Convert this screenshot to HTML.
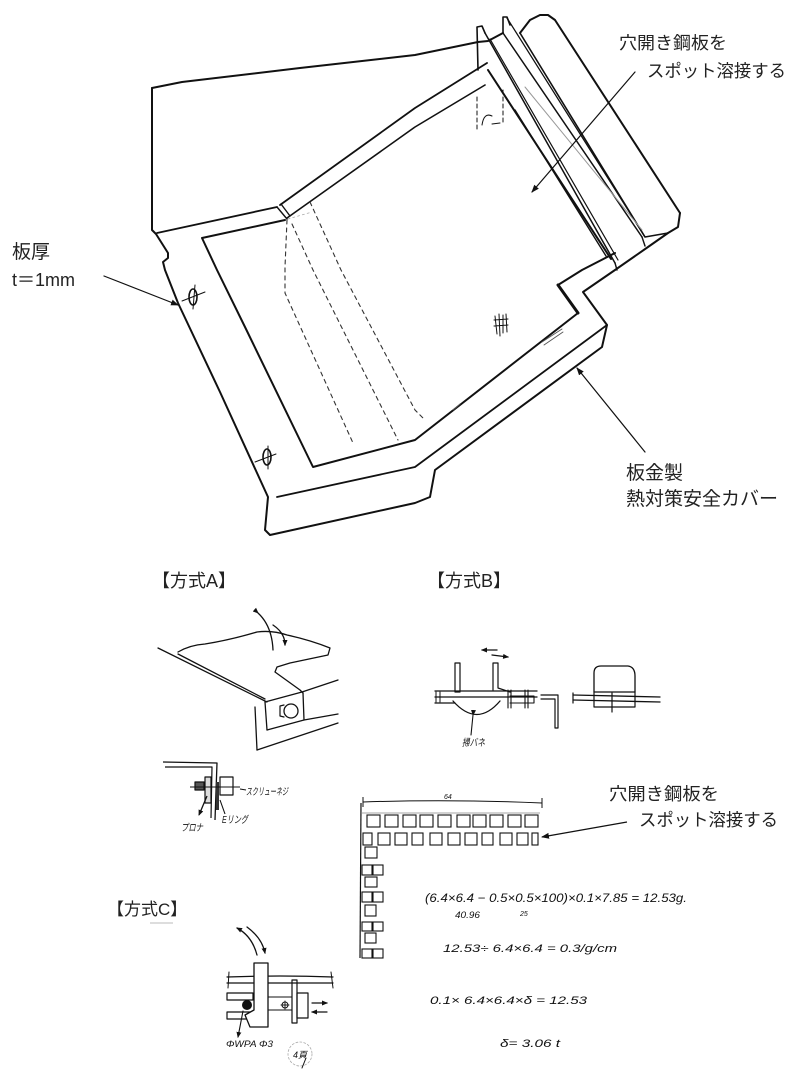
<!DOCTYPE html>
<html><head><meta charset="utf-8">
<style>
html,body{margin:0;padding:0;background:#fff;}
svg{display:block;}
.lab{font-family:"Liberation Sans","Noto Sans CJK JP",sans-serif;fill:#222;}
.hw{font-family:"Liberation Sans","Noto Sans CJK JP",sans-serif;font-style:italic;fill:#111;}
</style></head>
<body>
<svg width="800" height="1072" viewBox="0 0 800 1072" xmlns="http://www.w3.org/2000/svg">
<defs>
<marker id="ah" markerWidth="8" markerHeight="8" refX="7" refY="4" orient="auto" markerUnits="userSpaceOnUse">
<path d="M0,1 L8,4 L0,7 Z" fill="#111"/>
</marker>
<marker id="ah2" markerWidth="6" markerHeight="6" refX="5" refY="3" orient="auto" markerUnits="userSpaceOnUse">
<path d="M0,0.5 L6,3 L0,5.5 Z" fill="#111"/>
</marker>
</defs>
<rect width="800" height="1072" fill="#fff"/>

<!-- ===== MAIN DRAWING ===== -->
<g fill="none" stroke="#111" stroke-linejoin="round" stroke-linecap="round">
<!-- top edge -->
<path d="M152,88 L182,82 L300,68 L415,55 L478,42 L488,41 L503,33" stroke-width="2"/>
<!-- outer outline left/bottom/right -->
<path d="M152,88 L152,230 L156,234 L168,253 L168,258 L163,262 L165,270 L178,303 L220,392 L268,497 L265,530 L270,535 L415,503 L430,497 L435,470 L602,347 L607,325 L583,292 L615,270 L648,247 L668,233 L678,227 L680,213" stroke-width="2"/>
<!-- box -->
<path d="M520,33 L530,20 L540,15 L548,15 L555,20 L680,213" stroke-width="2"/>
<path d="M520,33 L645,237 L668,233" stroke-width="1.6"/>
<!-- left panel bottom and fold -->
<path d="M157,233 L277,207" stroke-width="1.8"/>
<path d="M277,207 L287,219 M281,204 L290,216" stroke-width="1.4"/>
<!-- frame upper lines -->
<path d="M280,205 L415,108 L487,63" stroke-width="1.8"/>
<path d="M287,218 L415,127 L485,85" stroke-width="1.6"/>
<!-- inner window -->
<path d="M285,220 L202,238 L217,270 L245,327 L313,467 L415,440 L578,313 L558,285 L582,270 L615,253" stroke-width="2"/>
<path d="M558,285 L578,313" stroke-width="3"/>
<!-- window right edge heavy -->
<path d="M488,70 L611,259" stroke-width="2"/>
<!-- flange top edge -->
<path d="M277,497 L415,467 L607,325" stroke-width="1.8"/>
<!-- bars -->
<path d="M485,33 L615,263" stroke-width="1.5"/>
<path d="M490,39 L618,260" stroke-width="1.2"/>
<path d="M503,33 L642,237" stroke-width="1.5"/>
<path d="M507,18 L645,237" stroke-width="1.3"/>
<path d="M515,110 L606,256" stroke-width="1.4"/>
<path d="M525,87 L642,230" stroke-width="1" stroke="#999"/>
<!-- tabs -->
<path d="M478,70 L477,27 L482,26 L485,33" stroke-width="1.6"/>
<path d="M503,33 L503,17 L507,17 L510,25" stroke-width="1.6"/>
<path d="M615,263 L617,270 M642,237 L645,246" stroke-width="1.4"/>
<!-- dashed near top -->
<path d="M477,97 L477,132 M503,90 L503,123" stroke-width="1" stroke-dasharray="4 3"/>
<path d="M482,125 Q484,112 492,116 M492,124 L500,123" stroke-width="1"/>
<!-- dashed lines -->
<g stroke-width="1.1" stroke-dasharray="4 4" stroke="#333">
<path d="M287,220 L285,267 L285,293 L353,443"/>
<path d="M292,224 L313,270 L398,440"/>
<path d="M310,202 L341,270 L415,410 L425,420"/>
</g>
<path d="M288,219 L312,212" stroke-width="0.8" stroke="#aaa" stroke-dasharray="2 3"/>
<!-- holes -->
<ellipse cx="193" cy="297" rx="4" ry="8" stroke-width="1.6"/>
<path d="M182,301 L205,292 M195,285 L193,309" stroke-width="1"/>
<ellipse cx="267" cy="457" rx="4" ry="8" stroke-width="1.6"/>
<path d="M255,462 L276,454 M268,446 L268,469" stroke-width="1"/>
<!-- hatch -->
<path d="M495,316 L497,334 M499,314 L500,336 M503,315 L503,333 M506,314 L507,332 M494,320 L508,319 M494,326 L508,325" stroke-width="1"/>
<!-- small marks -->
<path d="M542,342 L562,329 M544,345 L563,332" stroke-width="0.9" stroke="#555"/>
<path d="M453,410 L460,404" stroke-width="0.9" stroke="#555"/>
<!-- arrows -->
<path d="M104,276 L178,305" stroke-width="1.2" marker-end="url(#ah)"/>
<path d="M635,72 L532,192" stroke-width="1.2" marker-end="url(#ah)"/>
<path d="M645,452 L577,368" stroke-width="1.2" marker-end="url(#ah)"/>
</g>

<!-- labels main -->
<text class="lab" x="619" y="49" font-size="17.5" textLength="108" lengthAdjust="spacingAndGlyphs">穴開き鋼板を</text>
<text class="lab" x="647" y="77" font-size="17.5" textLength="139" lengthAdjust="spacingAndGlyphs">スポット溶接する</text>
<text class="lab" x="12" y="258" font-size="19">板厚</text>
<text class="lab" x="12" y="286" font-size="18">t＝1mm</text>
<text class="lab" x="626" y="479" font-size="19" textLength="57" lengthAdjust="spacingAndGlyphs">板金製</text>
<text class="lab" x="626" y="505" font-size="19" textLength="152" lengthAdjust="spacingAndGlyphs">熱対策安全カバー</text>

<!-- ===== METHOD A ===== -->
<text class="lab" x="152" y="587" font-size="18">【方式A】</text>
<g fill="none" stroke="#111" stroke-linejoin="round" stroke-linecap="round">
<!-- curved arrow -->
<path d="M258,613 Q272,626 273,650" stroke-width="1.3" marker-start="url(#ah2)"/>
<path d="M273,625 Q285,633 285,645" stroke-width="1.3" marker-end="url(#ah2)"/>
<!-- wall lines -->
<path d="M158,648 L267,702" stroke-width="1.3"/>
<path d="M178,654 L265,699" stroke-width="1.3"/>
<!-- plate outline -->
<path d="M178,652 Q190,645 205,644 Q230,640 257,632 Q272,630 287,635 Q310,640 330,648 L328,655 L290,663 L277,667 L275,672 L300,690 L303,693" stroke-width="1.3"/>
<!-- angle vertical -->
<path d="M255,707 L257,750" stroke-width="1.3"/>
<path d="M265,702 L267,730" stroke-width="1.3"/>
<!-- block -->
<path d="M265,702 L302,692 L338,680" stroke-width="1.3"/>
<path d="M303,693 L304,720" stroke-width="1.3"/>
<path d="M267,730 L304,720 L338,714" stroke-width="1.3"/>
<path d="M257,750 L338,723" stroke-width="1.3"/>
<!-- knob -->
<circle cx="291" cy="711" r="7" stroke-width="1.3"/>
<path d="M284,705 L280,706 L280,716 L284,717" stroke-width="1.2"/>
</g>
<!-- method A detail -->
<g fill="none" stroke="#111" stroke-linejoin="round">
<path d="M163,762 L217,763 L215,820" stroke-width="1.3"/>
<path d="M165,767 L212,767 L211,818" stroke-width="1.2"/>
<rect x="220" y="777" width="13" height="18" stroke-width="1.2"/>
<rect x="205" y="777" width="6" height="26" stroke-width="1.2" fill="#ddd"/>
<rect x="195" y="782" width="9" height="8" stroke-width="1.2" fill="#555"/>
<rect x="216" y="782" width="3" height="28" fill="#333" stroke="none"/>
<path d="M190,787 L240,787" stroke-width="1.1"/>
<path d="M240,789 L246,790" stroke-width="1.1"/>
<path d="M207,796 L199,815" stroke-width="1.3" marker-end="url(#ah2)"/>
<path d="M220,800 L225,814" stroke-width="1.1"/>
</g>
<text class="hw" x="246" y="795" font-size="10" textLength="42" lengthAdjust="spacingAndGlyphs">スクリューネジ</text>
<text class="hw" x="222" y="823" font-size="10" textLength="26" lengthAdjust="spacingAndGlyphs">Eリング</text>
<text class="hw" x="181" y="831" font-size="10" textLength="22" lengthAdjust="spacingAndGlyphs">プロナ</text>

<!-- ===== METHOD B ===== -->
<text class="lab" x="427" y="587" font-size="18">【方式B】</text>
<g fill="none" stroke="#111" stroke-linejoin="round" stroke-linecap="round">
<path d="M497,650 L482,650" stroke-width="1.3" marker-end="url(#ah2)"/>
<path d="M492,655 L508,657" stroke-width="1.3" marker-end="url(#ah2)"/>
<path d="M435,691 L537,691 M435,697 L537,697 M435,703 L455,703" stroke-width="1.3"/>
<path d="M436,692 L436,702 M440,692 L440,702" stroke-width="1"/>
<rect x="455" y="663" width="5" height="29" stroke-width="1.2"/>
<path d="M493,690 L493,663 L498,663 L498,688 L510,692" stroke-width="1.2"/>
<path d="M453,701 Q477,728 500,701" stroke-width="1.3"/>
<path d="M508,690 L508,708 M511,690 L511,708 M525,690 L525,708 M528,690 L528,708" stroke-width="1.1"/>
<path d="M510,696 L534,696 L534,703 L510,703" stroke-width="1.1"/>
<path d="M541,695 L558,695 L558,728 L555,728 L555,699 L541,699" stroke-width="1.2"/>
<path d="M473,715 L471,735" stroke-width="1.1" marker-start="url(#ah2)"/>
<!-- right assembly -->
<path d="M573,695 L660,697 M573,700 L660,702" stroke-width="1.3"/>
<path d="M573,693 L573,703" stroke-width="1.2"/>
<path d="M594,692 L594,673 Q594,666 601,666 L628,666 Q635,667 635,676 L635,692" stroke-width="1.3"/>
<rect x="594" y="692" width="41" height="15" stroke-width="1.2"/>
<path d="M612,693 L612,712" stroke-width="1.2"/>
</g>
<text class="hw" x="462" y="746" font-size="10" textLength="23" lengthAdjust="spacingAndGlyphs">掃バネ</text>

<!-- ===== PERFORATED PLATE ===== -->
<g fill="none" stroke="#111" stroke-width="1.1">
<path d="M363,802 Q450,799 542,803" stroke-width="1"/>
<path d="M363,797 L363,807 M542,798 L542,808" stroke-width="1"/>
<path d="M362,813 L540,813" stroke="#888" stroke-width="0.8"/>
<path d="M361,803 L360,958" stroke-width="1.2"/>
<!-- row 1 -->
<rect x="367" y="815" width="13" height="12"/>
<rect x="385" y="815" width="13" height="12"/>
<rect x="403" y="815" width="13" height="12"/>
<rect x="420" y="815" width="13" height="12"/>
<rect x="438" y="815" width="13" height="12"/>
<rect x="457" y="815" width="13" height="12"/>
<rect x="473" y="815" width="13" height="12"/>
<rect x="490" y="815" width="13" height="12"/>
<rect x="508" y="815" width="13" height="12"/>
<rect x="525" y="815" width="13" height="12"/>
<!-- row 2 -->
<rect x="363" y="833" width="9" height="12"/>
<rect x="378" y="833" width="12" height="12"/>
<rect x="395" y="833" width="12" height="12"/>
<rect x="412" y="833" width="11" height="12"/>
<rect x="430" y="833" width="12" height="12"/>
<rect x="448" y="833" width="12" height="12"/>
<rect x="465" y="833" width="12" height="12"/>
<rect x="482" y="833" width="11" height="12"/>
<rect x="500" y="833" width="12" height="12"/>
<rect x="517" y="833" width="11" height="12"/>
<rect x="532" y="833" width="6" height="12"/>
<!-- column -->
<rect x="365" y="847" width="12" height="11"/>
<rect x="362" y="865" width="10" height="10"/>
<rect x="373" y="865" width="10" height="10"/>
<rect x="365" y="877" width="12" height="10"/>
<rect x="362" y="892" width="10" height="10"/>
<rect x="373" y="892" width="10" height="10"/>
<rect x="365" y="905" width="11" height="11"/>
<rect x="362" y="922" width="10" height="9"/>
<rect x="373" y="922" width="10" height="9"/>
<rect x="365" y="933" width="11" height="10"/>
<rect x="362" y="949" width="10" height="9"/>
<rect x="373" y="949" width="10" height="9"/>
</g>
<text class="hw" x="444" y="799" font-size="7">64</text>
<path d="M627,822 L542,837" fill="none" stroke="#111" stroke-width="1.2" marker-end="url(#ah)"/>
<text class="lab" x="609" y="800" font-size="17.5" textLength="110" lengthAdjust="spacingAndGlyphs">穴開き鋼板を</text>
<text class="lab" x="639" y="826" font-size="17.5" textLength="139" lengthAdjust="spacingAndGlyphs">スポット溶接する</text>

<!-- equations -->
<text class="hw" x="425" y="902" font-size="12" textLength="262" lengthAdjust="spacingAndGlyphs">(6.4×6.4 − 0.5×0.5×100)×0.1×7.85 = 12.53g.</text>
<text class="hw" x="455" y="918" font-size="9" textLength="25" lengthAdjust="spacingAndGlyphs">40.96</text>
<text class="hw" x="520" y="916" font-size="7">25</text>
<text class="hw" x="443" y="952" font-size="11" textLength="174" lengthAdjust="spacingAndGlyphs">12.53÷ 6.4×6.4 = 0.3/g/cm</text>
<text class="hw" x="430" y="1004" font-size="11" textLength="157" lengthAdjust="spacingAndGlyphs">0.1× 6.4×6.4×δ = 12.53</text>
<text class="hw" x="500" y="1047" font-size="11" textLength="60" lengthAdjust="spacingAndGlyphs">δ= 3.06 t</text>

<!-- ===== METHOD C ===== -->
<text class="lab" x="107" y="915" font-size="17">【方式C】</text>
<path d="M150,923 L173,923" stroke="#bbb" stroke-width="1"/>
<g fill="none" stroke="#111" stroke-linejoin="round" stroke-linecap="round">
<path d="M257,955 Q252,936 237,928" stroke-width="1.3" marker-end="url(#ah2)"/>
<path d="M247,927 Q262,938 265,953" stroke-width="1.3" marker-end="url(#ah2)"/>
<path d="M227,977 Q280,975 333,977 M227,983 L333,983" stroke-width="1.2"/>
<path d="M229,972 L228,988 M331,972 L333,988" stroke-width="1"/>
<rect x="227" y="993" width="26" height="7" stroke-width="1.2"/>
<rect x="227" y="1012" width="26" height="7" stroke-width="1.2"/>
<path d="M254,963 L268,963 L268,1027 L250,1027 L245,1015 L254,1010 Z" stroke-width="1.3" fill="#fff"/>
<path d="M268,997 L292,997 M268,1010 L292,1010" stroke-width="1"/>
<path d="M292,980 L297,980 L297,1023 L292,1023 Z" stroke-width="1.2"/>
<rect x="297" y="993" width="11" height="25" stroke-width="1.2"/>
<circle cx="285" cy="1005" r="3" stroke-width="1"/>
<path d="M281,1005 L289,1005 M285,1001 L285,1009" stroke-width="0.9"/>
<path d="M312,1003 L327,1003" stroke-width="1.2" marker-end="url(#ah2)"/>
<path d="M327,1012 L312,1012" stroke-width="1.2" marker-end="url(#ah2)"/>
<path d="M243,1011 L238,1037" stroke-width="1.1" marker-end="url(#ah2)"/>
<circle cx="300" cy="1054" r="12" stroke="#aaa" stroke-width="0.8" stroke-dasharray="2 2"/>
<path d="M306,1058 L302,1068" stroke-width="1"/>
</g>
<circle cx="247" cy="1005" r="5" fill="#111"/>
<text class="hw" x="226" y="1047" font-size="9" textLength="47" lengthAdjust="spacingAndGlyphs">ΦWPA Φ3</text>
<text class="hw" x="293" y="1058" font-size="9">4頁</text>
</svg>
</body></html>
